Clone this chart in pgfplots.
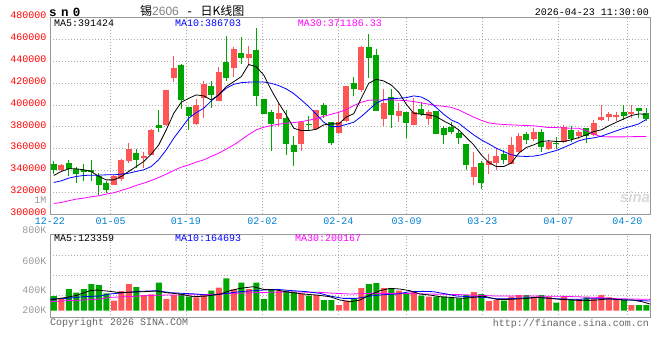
\documentclass[border=0pt]{standalone}
\usepackage{fontspec}
\usepackage{pgfplots}
\pgfplotsset{compat=1.18}
\usepackage{pgfplotstable}
\setmainfont{Liberation Mono}
\newfontfamily\cjk{Noto Sans CJK SC}
\newfontfamily\lsans{Liberation Sans}
\definecolor{cRed}{RGB}{255,85,85}
\definecolor{cGreen}{RGB}{0,166,0}
\definecolor{cTick}{RGB}{255,0,0}
\definecolor{cDate}{RGB}{0,128,210}
\definecolor{cGrid}{RGB}{170,170,170}
\definecolor{cFrame}{RGB}{153,153,153}
\definecolor{cMag}{RGB}{255,0,255}
\definecolor{cBlue}{RGB}{0,0,255}
\definecolor{cText}{RGB}{100,100,100}

\pgfplotstableread{
i O H L C
1 340400 345800 339800 345200
8 326400 336100 326400 335200
9 332500 350700 330900 349800
10 348300 365000 346800 359600
12 351300 357400 342800 353200
13 354400 378100 353800 377200
15 381800 413700 381200 413700
16 424400 445100 421300 433800
19 382400 405500 381800 400000
20 406100 421900 388500 419200
22 403700 435000 403700 430200
24 434100 452700 425900 451500
26 443300 453900 436600 446600
30 387600 401600 380600 392700
33 364400 385400 358300 384800
35 378100 395500 377200 395500
38 374800 393900 373900 384800
39 385700 417700 384800 417700
41 413700 453900 411600 453300
44 387600 414700 380900 401900
46 390300 402200 384800 394300
48 382100 406100 382100 393600
50 387600 395500 381800 393600
56 334300 357100 327000 343400
58 344900 355300 337300 349200
59 346800 360500 340100 353500
61 345900 370800 345900 363500
62 357400 374200 357400 372000
64 369000 379300 366600 375700
66 359600 368100 358900 366300
68 365900 381800 365000 379900
70 371400 377200 369000 375400
72 372600 386300 372000 383600
73 386300 400000 385400 389100
74 389400 393900 385400 392100
75 388800 393900 385400 390900
77 391800 400000 387900 393600
}\upK

\pgfplotstableread{
i O H L C
0 346200 349200 336700 340700
2 347100 349800 334600 341600
3 341300 343700 328500 336700
4 340100 345800 330900 338500
5 340900 349500 330900 338500
6 334900 337600 317800 326400
7 328800 330900 319400 322400
11 356200 359600 342200 349800
14 381800 395500 375700 379300
17 436600 437500 396400 404600
18 397900 397900 377200 390300
21 417400 421900 397600 409200
23 439300 463000 421900 425000
25 447500 462100 437200 443300
27 450300 470000 399400 408600
28 405500 405500 391800 391800
29 393600 395500 358000 383000
31 388500 395500 354400 364400
32 363500 371700 344300 357400
34 382400 390000 376600 381800
36 400000 401600 387900 390900
37 384800 384800 363500 365000
40 419800 425600 408600 414700
42 453000 464900 425000 443300
43 445700 451200 394900 394900
45 407300 414700 378700 390900
47 393600 393600 369600 383900
49 396400 403100 390300 391500
51 394600 394600 373900 373900
52 379000 380600 364700 372900
53 379900 384800 373600 375100
54 374500 377200 364400 370200
55 364400 364400 340100 345500
57 347100 349200 322700 328200
60 355000 358900 345900 349500
63 373600 375700 364400 368400
65 375400 378100 357400 361400
67 365000 370800 359900 364100
69 377200 380900 365900 369000
71 378700 378700 365600 372000
76 393600 400000 386000 390300
78 397300 397300 387900 394600
79 392700 397300 385400 387200
}\dnK

\pgfplotstableread{
i m5 m10 m30
0 335500 329100 309900
1 339200 330600 310800
2 341600 333100 312400
3 341600 334600 313900
4 340700 335500 314800
5 339200 335800 316000
6 334600 335800 316900
7 331500 336100 318500
8 331500 336100 319700
9 334600 336700 321800
10 339200 337600 323900
11 343700 339200 326400
12 348300 340700 328500
13 355000 343700 330900
14 363500 350000 333700
15 377200 358900 336700
16 392400 369600 340100
17 402500 378700 343100
18 406100 387900 345200
19 409200 393000 347700
20 408300 397000 349800
21 404600 403700 352900
22 409200 409200 355900
23 416800 415300 359600
24 421300 418900 363500
25 425900 420400 368100
26 437000 420900 373000
27 435000 421000 377200
28 427400 421000 379600
29 413700 419800 381200
30 401600 417700 382400
31 390900 414700 383300
32 378700 410400 383900
33 376600 404600 384800
34 376600 398500 386000
35 377800 391500 387600
36 381800 384200 389700
37 382700 380200 391500
38 382700 380200 393300
39 389000 382200 395800
40 392000 384200 399400
41 406100 389400 402500
42 419800 395500 404300
43 423500 401600 404600
44 421900 404900 404600
45 418300 405800 404600
46 411600 406100 404300
47 400700 406700 404000
48 392400 408300 403100
49 391500 407300 401900
50 390900 403700 400700
51 389400 397600 399400
52 385400 391500 398800
53 381800 386300 397800
54 377200 383300 395500
55 370200 377800 392100
56 363500 372600 388800
57 354400 368100 386000
58 347400 364400 383600
59 343700 360500 382700
60 343700 357400 382100
61 346800 354400 381800
62 355900 353200 381500
63 361100 352900 381200
64 363500 353200 380900
65 366600 354400 380200
66 367200 356500 379300
67 366600 358300 379300
68 366600 361100 379000
69 368100 364100 378700
70 370200 367200 378700
71 372600 369000 376600
72 375700 369900 373200
73 377200 371400 371100
74 380900 373900 370800
75 384200 376300 370800
76 387200 378700 370800
77 390300 380600 371000
78 391800 382700 371100
79 391400 386700 371200
}\maK

\pgfplotstableread{
i V
1 98.7
8 80
9 157.3
10 213.3
12 125.3
13 130.7
15 93.3
16 125.3
19 106.7
20 133.3
22 184
24 170.7
26 173.3
30 160
33 138.7
35 125.3
38 45.3
39 80
41 181.3
44 181.3
46 160
48 152
50 112
56 149.3
58 77.3
59 85.3
61 112
62 125.3
64 112
66 112
68 112
70 93.3
72 98.7
73 125.3
74 106.7
75 93.3
77 45.3
}\volR

\pgfplotstableread{
i V
0 117.3
2 173.3
3 144
4 173.3
5 213.3
6 205.3
7 138.7
11 189.3
14 224
17 133.3
18 112
21 160
23 258.7
25 224
27 224
28 93.3
29 173.3
31 160
32 152
34 120
36 85.3
37 85.3
40 93.3
42 213.3
43 221.3
45 173.3
47 138.7
49 120
51 112
52 112
53 106.7
54 98.7
55 125.3
57 133.3
60 80
63 125.3
65 125.3
67 64
69 93.3
71 106.7
76 85.3
78 45.3
79 45.3
}\volG

\pgfplotstableread{
x y
-0.5 85.3
1.72 106.7
3.05 122.7
4.83 160
5.72 165.3
7.5 154.7
8.83 144
10.61 149.3
11.94 152
13.72 157.3
15.05 144
16.83 133.3
18.61 112
20.39 117.3
22.16 133.3
23.5 160
24.83 178.7
26.61 192
27.94 170.7
29.72 165.3
31.5 146.7
33.27 133.3
35.05 125.3
36.83 112
38.16 85.3
39.5 72
40.83 85.3
42.16 125.3
43.5 160
44.83 178.7
46.16 173.3
47.5 160
48.83 133.3
50.16 125.3
51.5 112
52.83 106.7
54.61 98.7
55.94 106.7
57.27 117.3
59.05 90.7
60.83 90.7
62.61 96
64.39 106.7
65.72 101.3
67.5 90.7
69.27 85.3
70.61 80
72.38 85.3
74.16 96
75.94 85.3
77.27 85.3
78.61 69.3
79.5 53.3
}\vmaA

\pgfplotstableread{
x y
-0.5 93.3
1.72 98.7
3.94 112
6.16 117.3
7.5 133.3
9.72 146.7
11.5 154.7
13.72 160
15.5 144
17.27 138.7
19.05 133.3
20.83 122.7
23.05 138.7
24.83 152
26.61 160
27.94 165.3
29.72 170.7
31.94 160
33.72 152
35.5 138.7
36.83 117.3
38.61 98.7
40.38 98.7
42.16 117.3
43.94 128
45.72 133.3
47.5 152
49.27 154.7
50.61 152
52.38 133.3
53.72 117.3
55.5 112
57.27 106.7
59.05 96
60.83 96
62.61 101.3
64.39 106.7
66.16 98.7
67.94 93.3
69.72 90.7
71.5 96
73.27 96
75.05 90.7
76.83 85.3
78.61 80
79.5 77.3
}\vmaB

\pgfplotstableread{
x y
-0.5 72
1.72 80
3.94 85.3
6.16 93.3
7.5 106.7
9.72 112
11.5 117.3
13.27 122.7
15.05 125.3
16.83 125.3
19.5 128
22.16 133.3
23.94 138.7
26.61 144
28.38 146.7
31.05 149.3
32.83 149.3
35.5 146.7
36.83 141.3
39.5 133.3
42.16 138.7
45.72 138.7
50.16 133.3
54.61 128
59.05 117.3
63.5 117.3
67.94 114.7
72.38 106.7
75.05 96
79.5 90.7
}\vmaC

\pgfplotsset{
  candle/.style={draw=none, mark=none, forget plot,
    error bars/.cd, y dir=plus, y explicit, error mark=none,
    error bar style={draw=#1, line width=1bp}},
  body/.style={draw=none, mark=none, forget plot,
    error bars/.cd, y dir=plus, y explicit, error mark=none,
    error bar style={draw=#1, line width=6bp}},
}

\begin{document}
\begin{tikzpicture}
\useasboundingbox (0bp,0bp) rectangle (660bp,360bp);

\begin{axis}[
  at={(50bp,145.7bp)}, anchor=south west, scale only axis,
  width=600bp, height=196.8bp,
  xmin=-0.5, xmax=79.5, ymin=300000, ymax=480000,
  axis line style={cFrame, line width=0.8bp},
  xtick={-0.5,7.59,17.63,27.81,37.94,47.06,57.14,67.27,76.47},
  xticklabels={12-22,01-05,01-19,02-02,02-24,03-09,03-23,04-07,04-20},
  ytick={300000,320000,340000,360000,380000,400000,420000,440000,460000,480000},
  yticklabels={300000,320000,340000,360000,380000,400000,420000,440000,460000,480000},
  scaled y ticks=false,
  major tick length=0pt,
  grid=major, grid style={cGrid, line width=0.8bp, dash pattern=on 1bp off 2bp},
  x tick label style={font=\fontsize{10bp}{12bp}\selectfont, text=cDate},
  y tick label style={font=\fontsize{10bp}{12bp}\selectfont, text=cTick, yshift=2bp},
  extra y ticks={313000}, extra y tick labels={1M},
  extra y tick style={grid=none, y tick label style={text=cFrame, yshift=-2bp}},
]
\addplot[candle=cRed] table[x=i, y=L, y error plus expr=\thisrow{H}-\thisrow{L}] {\upK};
\addplot[candle=cGreen] table[x=i, y=L, y error plus expr=\thisrow{H}-\thisrow{L}] {\dnK};
\addplot[body=cRed] table[x=i, y=O, y error plus expr=\thisrow{C}-\thisrow{O}] {\upK};
\addplot[body=cGreen] table[x=i, y=C, y error plus expr=\thisrow{O}-\thisrow{C}] {\dnK};
\addplot[cMag, line width=0.8bp, mark=none] table[x=i, y=m30] {\maK};
\addplot[cBlue, line width=0.8bp, mark=none] table[x=i, y=m10] {\maK};
\addplot[black, line width=0.8bp, mark=none] table[x=i, y=m5] {\maK};
\end{axis}

\begin{axis}[
  at={(50bp,42.3bp)}, anchor=south west, scale only axis,
  width=600bp, height=83.2bp,
  xmin=-0.5, xmax=79.5, ymin=-56, ymax=609.6,
  axis line style={cFrame, line width=0.8bp},
  xtick={-0.5,7.59,17.63,27.81,37.94,47.06,57.14,67.27,76.47},
  xticklabels={},
  xmajorgrids,
  ytick={5.6,160,392}, yticklabels={200K,400K,600K},
  minor ytick={125.6,285.6,445.6},
  yminorgrids,
  major tick length=0pt, minor tick length=0pt,
  grid style={cGrid, line width=0.8bp, dash pattern=on 1bp off 2bp},
  minor grid style={cGrid, line width=0.8bp, dash pattern=on 1bp off 2bp},
  y tick label style={font=\fontsize{10bp}{12bp}\selectfont, text=cFrame},
  extra y ticks={609.6}, extra y tick labels={800K},
  extra y tick style={grid=none, y tick label style={yshift=4bp}},
]
\addplot[ybar, bar width=6bp, bar shift=0pt, fill=cRed, draw=none] table[x=i, y=V] {\volR};
\addplot[ybar, bar width=6bp, bar shift=0pt, fill=cGreen, draw=none] table[x=i, y=V] {\volG};
\addplot[cMag, line width=0.8bp, mark=none] table[x=x, y=y] {\vmaC};
\addplot[cBlue, line width=0.8bp, mark=none] table[x=x, y=y] {\vmaB};
\addplot[black, line width=0.8bp, mark=none] table[x=x, y=y] {\vmaA};
\end{axis}

% header
\node[anchor=west, inner sep=0pt] at (49bp,348bp)
  {\fontsize{12.5bp}{14bp}\selectfont\bfseries\addfontfeature{LetterSpace=35}sn0};
\node[anchor=west, inner sep=0pt] at (140bp,349.3bp)
  {\fontsize{12bp}{14bp}\selectfont{\cjk 锡}{\lsans\color{gray}2606} - {\cjk 日K线图}};
\node[anchor=east, inner sep=0pt] at (649bp,348bp)
  {\fontsize{10bp}{12bp}\selectfont 2026-04-23 11:30:00};
% MA labels main
\node[anchor=west, inner sep=0pt] at (54bp,336.3bp) {\fontsize{10bp}{12bp}\selectfont MA5:391424};
\node[anchor=west, inner sep=0pt, text=cBlue] at (175bp,336.3bp) {\fontsize{10bp}{12bp}\selectfont MA10:386703};
\node[anchor=west, inner sep=0pt, text=cMag] at (297.7bp,336.3bp) {\fontsize{10bp}{12bp}\selectfont MA30:371186.33};
% MA labels volume
\node[anchor=west, inner sep=0pt] at (54bp,121.7bp) {\fontsize{10bp}{12bp}\selectfont MA5:123359};
\node[anchor=west, inner sep=0pt, text=cBlue] at (175bp,121.7bp) {\fontsize{10bp}{12bp}\selectfont MA10:164693};
\node[anchor=west, inner sep=0pt, text=cMag] at (295bp,121.7bp) {\fontsize{10bp}{12bp}\selectfont MA30:200167};
% footer
\node[anchor=west, inner sep=0pt, text=cText] at (50bp,36.7bp) {\fontsize{10bp}{12bp}\selectfont Copyright 2026 SINA.COM};
\node[anchor=east, inner sep=0pt, text=cText] at (649bp,36.2bp) {\fontsize{10bp}{12bp}\selectfont http://finance.sina.com.cn};
% watermark
\node[inner sep=0pt, text=black!15] at (635bp,163bp) {\lsans\bfseries\itshape\fontsize{15bp}{16bp}\selectfont sina};
\end{tikzpicture}
\end{document}
